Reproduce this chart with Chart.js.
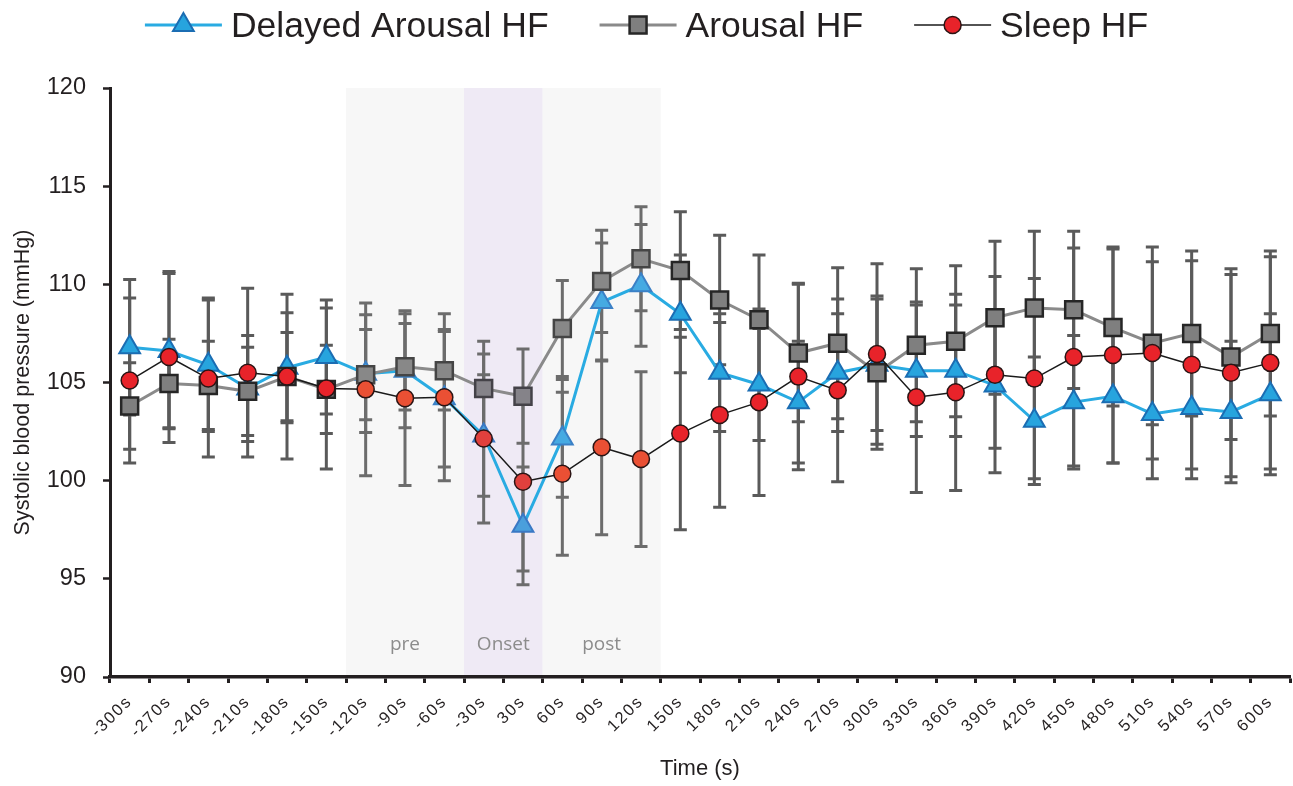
<!DOCTYPE html>
<html><head><meta charset="utf-8">
<script src="https://cdn.jsdelivr.net/npm/chart.js@4.4.1/dist/chart.umd.min.js"></script>
<style>html,body{margin:0;padding:0;background:#fff;overflow:hidden}</style>
</head><body>
<canvas id="c" width="1293" height="786" style="display:block;width:1293px;height:786px"></canvas>
<script>
const timeLabels = ['-300s','-270s','-240s','-210s','-180s','-150s','-120s','-90s','-60s','-30s','30s','60s','90s','120s','150s','180s','210s','240s','270s','300s','330s','360s','390s','420s','450s','480s','510s','540s','570s','600s'];
const delayedArousal = [106.8,106.6,105.9,104.7,105.75,106.3,105.45,105.6,104.2,102.3,97.7,102.15,109.1,109.95,108.5,105.5,104.9,104.0,105.5,105.9,105.6,105.6,104.85,103.05,104.0,104.3,103.4,103.7,103.5,104.4];
const delayedArousalErr = [3.45,3.95,3.4,2.7,2.8,2.9,3.0,2.9,3.5,3.1,3.0,3.0,3.0,3.1,3.0,3.0,2.85,3.1,3.0,3.35,3.35,3.35,3.2,3.25,3.4,3.4,3.3,3.6,3.6,4.1];
const arousal = [103.8,104.95,104.85,104.55,105.3,104.65,105.4,105.8,105.6,104.7,104.3,107.75,110.15,111.3,110.7,109.2,108.2,106.5,107.0,105.5,106.9,107.1,108.3,108.8,108.7,107.8,107.0,107.5,106.3,107.5];
const arousalErr = [2.2,2.25,2.25,2.25,2.25,2.25,2.3,2.2,2.0,2.4,2.4,2.45,2.6,2.65,3.0,3.3,3.3,3.5,3.85,3.9,3.9,3.85,3.9,3.9,4.0,4.0,4.15,4.2,4.2,4.2];
const sleep = [105.1,106.3,105.2,105.5,105.3,104.7,104.65,104.2,104.25,102.15,99.95,100.35,101.7,101.1,102.4,103.35,104.0,105.3,104.6,106.45,104.25,104.5,105.4,105.2,106.3,106.4,106.5,105.9,105.5,106.0];
const sleepErr = [4.2,4.35,4.0,4.3,4.2,4.1,4.4,4.45,4.25,4.3,4.55,4.15,4.45,4.45,4.9,4.7,4.75,4.75,4.65,4.6,4.85,5.0,5.0,5.1,5.55,5.5,5.4,5.3,5.3,5.4];
const yMin = 90, yMax = 120, yStep = 5;
const phaseNames = ['pre','Onset','post'];
const phaseFirst = ['-120s','-30s','60s'];
const phaseLast = ['-60s','30s','120s'];
const phaseColors = ['#f7f7f7','#efeaf5','#f7f7f7'];

const FONT = '"Liberation Sans", Arial, Helvetica, sans-serif';
const INK = '#231f20';

function phaseOf(i){
  for (let p = 0; p < phaseNames.length; p++){
    if (i >= timeLabels.indexOf(phaseFirst[p]) && i <= timeLabels.indexOf(phaseLast[p])) return p;
  }
  return -1;
}
function tint(outside, inPrePost, inOnset){
  return ctx => { const p = phaseOf(ctx.dataIndex); return p < 0 ? outside : (p === 1 ? inOnset : inPrePost); };
}

function drawMarker(ctx, style, x, y, r, fill, stroke, lw){
  ctx.save();
  ctx.beginPath();
  if (style === 'triangle'){
    let a = 0;
    ctx.moveTo(x + Math.sin(a)*r, y - Math.cos(a)*r);
    a += 2*Math.PI/3; ctx.lineTo(x + Math.sin(a)*r, y - Math.cos(a)*r);
    a += 2*Math.PI/3; ctx.lineTo(x + Math.sin(a)*r, y - Math.cos(a)*r);
    ctx.closePath();
  } else if (style === 'rect'){
    const s = r*Math.SQRT1_2; ctx.rect(x-s, y-s, 2*s, 2*s);
  } else {
    ctx.arc(x, y, r, 0, Math.PI*2);
  }
  ctx.fillStyle = fill; ctx.fill();
  ctx.lineWidth = lw; ctx.strokeStyle = stroke; ctx.stroke();
  ctx.restore();
}

const phasePlugin = {
  id: 'phases',
  beforeDraw(chart){
    const {ctx, chartArea:a, scales:{x}} = chart;
    const half = (x.getPixelForValue(1) - x.getPixelForValue(0))/2;
    ctx.save();
    phaseNames.forEach((n,i)=>{
      const l = x.getPixelForValue(timeLabels.indexOf(phaseFirst[i])) - half;
      const r = x.getPixelForValue(timeLabels.indexOf(phaseLast[i])) + half;
      ctx.fillStyle = phaseColors[i];
      ctx.fillRect(l, a.top, r-l, a.bottom - a.top);
      ctx.fillStyle = '#8c8c8c';
      ctx.font = '19px "Open Sans", "Noto Sans", sans-serif';
      ctx.textAlign = 'center'; ctx.textBaseline = 'middle';
      ctx.fillText(n, (l+r)/2, 645);
    });
    ctx.restore();
    const s = chart.scales.x;
    if (!s.__wrapped){
      const orig = s.drawLabels.bind(s);
      s.drawLabels = function(ca){
        const c = this.ctx; const prev = c.letterSpacing;
        c.letterSpacing = '1.8px'; orig(ca); c.letterSpacing = prev || '0px';
      };
      s.__wrapped = true;
    }
  }
};

const errorBarPlugin = {
  id: 'errorBars',
  beforeDatasetsDraw(chart){
    const {ctx, scales:{x,y}} = chart;
    ctx.save();
    ctx.lineWidth = 3;
    chart.data.datasets.forEach((ds,i)=>{
      if (!chart.isDatasetVisible(i)) return;
      ds.data.forEach((v,j)=>{
        const e = ds.errors[j];
        const px = x.getPixelForValue(j);
        const t = y.getPixelForValue(v+e), b = y.getPixelForValue(v-e);
        ctx.strokeStyle = phaseOf(j) < 0 ? '#5a5a5a' : '#6c6c6c';
        ctx.beginPath();
        ctx.moveTo(px,t); ctx.lineTo(px,b);
        ctx.moveTo(px-6.5,t); ctx.lineTo(px+6.5,t);
        ctx.moveTo(px-6.5,b); ctx.lineTo(px+6.5,b);
        ctx.stroke();
      });
    });
    ctx.restore();
  }
};

const legendPlugin = {
  id: 'customLegend',
  afterDraw(chart){
    const ctx = chart.ctx;
    const items = chart.data.datasets.slice();
    ctx.save();
    ctx.font = '35.5px ' + FONT;
    const symW = 77, gapT = 9, gapI = 51;
    const widths = items.map(d => symW + gapT + ctx.measureText(d.label).width);
    const total = widths.reduce((p,c)=>p+c,0) + gapI*(items.length-1);
    let xx = (chart.width - total)/2;
    const cy = 25;
    items.forEach((d,i)=>{
      ctx.beginPath();
      ctx.strokeStyle = d.borderColor; ctx.lineWidth = d.borderWidth;
      ctx.moveTo(xx, cy); ctx.lineTo(xx+symW, cy); ctx.stroke();
      drawMarker(ctx, d.pointStyle, xx+symW/2, cy, d.pointRadius, d.legendFill, d.legendStroke, d.pointBorderWidth);
      ctx.fillStyle = INK; ctx.textAlign = 'left'; ctx.textBaseline = 'middle';
      ctx.fillText(d.label, xx+symW+gapT, cy+2);
      xx += widths[i] + gapI;
    });
    ctx.restore();
  }
};

new Chart(document.getElementById('c'), {
  type: 'line',
  data: {
    labels: timeLabels,
    datasets: [
      { label: 'Delayed Arousal HF', data: delayedArousal, errors: delayedArousalErr,
        borderColor: '#29abe2', borderWidth: 3, pointStyle: 'triangle', pointRadius: 12,
        legendFill: '#27a4de', legendStroke: '#1b6db3',
        pointBackgroundColor: tint('#27a4de', '#46aae2', '#4a9fdc'),
        pointBorderColor: tint('#1b6db3', '#3b80c6', '#3a78c4'), pointBorderWidth: 2,
        order: 2, tension: 0 },
      { label: 'Arousal HF', data: arousal, errors: arousalErr,
        borderColor: '#8a8a8a', borderWidth: 3, pointStyle: 'rect', pointRadius: 12,
        legendFill: '#7f7f7f', legendStroke: '#262626',
        pointBackgroundColor: tint('#7f7f7f', '#888888', '#858389'),
        pointBorderColor: tint('#262626', '#454545', '#444248'), pointBorderWidth: 2.5,
        order: 1, tension: 0 },
      { label: 'Sleep HF', data: sleep, errors: sleepErr,
        borderColor: '#1a1a1a', borderWidth: 1.5, pointStyle: 'circle', pointRadius: 8.5,
        legendFill: '#e8232a', legendStroke: '#2b1414',
        pointBackgroundColor: tint('#e8232a', '#ea5034', '#e0403d'),
        pointBorderColor: '#2b1414', pointBorderWidth: 1.5,
        order: 0, tension: 0 }
    ]
  },
  options: {
    responsive: false, animation: false, devicePixelRatio: 1,
    layout: { autoPadding: false, padding: { top: 88, right: 3, left: 0, bottom: 0 } },
    plugins: { legend: { display: false }, tooltip: { enabled: false } },
    scales: {
      x: {
        type: 'category', offset: true,
        afterFit(s){ s.height = 109; s.paddingRight = 0; s.paddingLeft = 0; },
        grid: { offset: true, drawOnChartArea: false, drawTicks: true, tickLength: 6, tickWidth: 3, tickColor: INK },
        border: { display: true, color: INK, width: 3.5 },
        ticks: { autoSkip: false, maxRotation: 45, minRotation: 45, padding: 9, color: INK,
                 font: { family: FONT, size: 16.5 } },
        title: { display: true, text: 'Time (s)', color: INK, font: { family: FONT, size: 22 }, padding: { top: 0, bottom: 4 } }
      },
      y: {
        min: yMin, max: yMax,
        afterFit(s){ s.width = 110; },
        grid: { drawOnChartArea: false, drawTicks: true, tickLength: 7, tickWidth: 2.5, tickColor: INK },
        border: { display: true, color: INK, width: 3 },
        ticks: { stepSize: yStep, padding: 17, color: INK, font: { family: FONT, size: 23.5 } },
        title: { display: true, text: 'Systolic blood pressure (mmHg)', color: INK, font: { family: FONT, size: 21.5 }, padding: { top: 10, bottom: 0 } }
      }
    }
  },
  plugins: [phasePlugin, errorBarPlugin, legendPlugin]
});
</script>
</body></html>
